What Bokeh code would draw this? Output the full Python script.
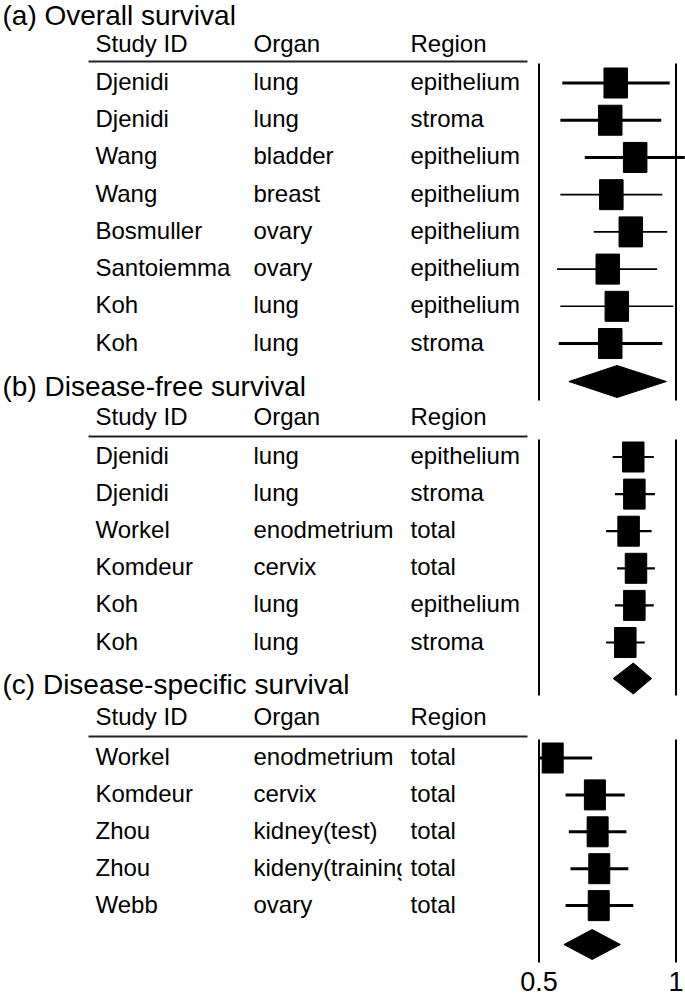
from bokeh.plotting import figure
from bokeh.models import Range1d, ColumnDataSource
from bokeh.core.properties import value
from bokeh.embed import file_html
from bokeh.resources import INLINE

# ---------------- data ----------------
titles = ["(a) Overall survival", "(b) Disease-free survival", "(c) Disease-specific survival"]
headers = ["Study ID", "Organ", "Region"]

a_study = ["Djenidi", "Djenidi", "Wang", "Wang", "Bosmuller", "Santoiemma", "Koh", "Koh"]
a_organ = ["lung", "lung", "bladder", "breast", "ovary", "ovary", "lung", "lung"]
a_region = ["epithelium", "stroma", "epithelium", "epithelium", "epithelium", "epithelium", "epithelium", "stroma"]
a_est = [0.780, 0.760, 0.851, 0.764, 0.835, 0.751, 0.784, 0.760]
a_lo = [0.585, 0.578, 0.667, 0.578, 0.700, 0.566, 0.578, 0.572]
a_hi = [0.977, 0.946, 1.032, 0.950, 0.968, 0.931, 0.990, 0.950]
a_pooled = (0.609, 0.785, 0.965)

b_study = ["Djenidi", "Djenidi", "Workel", "Komdeur", "Koh", "Koh"]
b_organ = ["lung", "lung", "enodmetrium", "cervix", "lung", "lung"]
b_region = ["epithelium", "stroma", "total", "total", "epithelium", "stroma"]
b_est = [0.844, 0.848, 0.827, 0.854, 0.848, 0.815]
b_lo = [0.769, 0.777, 0.745, 0.785, 0.777, 0.745]
b_hi = [0.919, 0.923, 0.911, 0.923, 0.919, 0.886]
b_pooled = (0.771, 0.844, 0.911)

c_study = ["Workel", "Komdeur", "Zhou", "Zhou", "Webb"]
c_organ = ["enodmetrium", "cervix", "kidney(test)", "kideny(training)", "ovary"]
c_region = ["total", "total", "total", "total", "total"]
c_est = [0.550, 0.704, 0.714, 0.720, 0.718]
c_lo = [0.500, 0.597, 0.609, 0.615, 0.597]
c_hi = [0.694, 0.813, 0.819, 0.826, 0.844]
c_pooled = (0.591, 0.694, 0.797)

tick_values = [0.5, 1.0]
tick_labels = ["0.5", "1"]

panels = [
    (a_study, a_organ, a_region, a_est, a_lo, a_hi, a_pooled),
    (b_study, b_organ, b_region, b_est, b_lo, b_hi, b_pooled),
    (c_study, c_organ, c_region, c_est, c_lo, c_hi, c_pooled),
]

# ---------------- layout (image pixel rows) ----------------
layout = [
    dict(title=24, header=52, rule=61, row1=82.5, step=37.22, diamond=381, vtop=63, vbot=400,
         box=(23.5, 30), ciw=[3, 3, 3, 1.6, 1.6, 1.6, 1.6, 3], dh=16),
    dict(title=395, header=425, rule=436, row1=456.5, step=37.1, diamond=678, vtop=439, vbot=695,
         box=(21.5, 30), ciw=[2.2] * 6, dh=15.5),
    dict(title=693, header=725, rule=736, row1=757.5, step=36.9, diamond=944, vtop=739, vbot=962,
         box=(21, 30), ciw=[3] * 5, dh=15),
]
col_x = [95, 253, 410]
FONT = value("Liberation Sans")
TXT_SHIFT = -9  # renderer draws alphabetic baseline slightly low

W, H = 685, 996
PX_PER_UNIT = 274.0
X0_PX = 538.5  # pixel of value 0.5
p = figure(width=W, height=H, output_backend="svg", toolbar_location=None,
           x_range=Range1d(0.5 - X0_PX / PX_PER_UNIT, 0.5 + (W - X0_PX) / PX_PER_UNIT),
           y_range=Range1d(H, 0),
           min_border=0, min_border_left=0, min_border_right=0,
           min_border_top=0, min_border_bottom=0)
p.extra_x_ranges = {"px": Range1d(0, W)}
p.axis.visible = False
p.xgrid.visible = False
p.ygrid.visible = False
p.outline_line_color = None
p.background_fill_color = "white"
p.border_fill_color = "white"

t_x, t_y, t_txt = [], [], []
h_x, h_y, h_txt = [], [], []
s_x, s_y, s_txt = [], [], []
o_x, o_y, o_txt = [], [], []
r_x, r_y, r_txt = [], [], []
rule_y = []
seg = dict(x0=[], x1=[], y=[], w=[])
box = dict(x=[], y=[], w=[], h=[])
dia_xs, dia_ys = [], []
vl = dict(x=[], y0=[], y1=[])
masks = []

for i, (study, organ, region, est, lo, hi, pooled) in enumerate(panels):
    L = layout[i]
    t_x.append(2); t_y.append(L["title"] + TXT_SHIFT); t_txt.append(titles[i])
    for k in range(3):
        h_x.append(col_x[k]); h_y.append(L["header"] + TXT_SHIFT); h_txt.append(headers[k])
    rule_y.append(L["rule"])
    for j in range(len(study)):
        yc = L["row1"] + j * L["step"]
        ty = yc + 7.5 + TXT_SHIFT
        s_x.append(col_x[0]); s_y.append(ty); s_txt.append(study[j])
        o_x.append(col_x[1]); o_y.append(ty); o_txt.append(organ[j])
        r_x.append(col_x[2]); r_y.append(ty); r_txt.append(region[j])
        if organ[j].startswith("kideny"):
            masks.append(yc)
        seg["x0"].append(lo[j]); seg["x1"].append(hi[j]); seg["y"].append(yc); seg["w"].append(L["ciw"][j])
        box["x"].append(est[j]); box["y"].append(yc); box["w"].append(L["box"][0]); box["h"].append(L["box"][1])
    dl, de, dhh = pooled
    yd = L["diamond"]
    dia_xs.append([dl, de, dhh, de]); dia_ys.append([yd, yd - L["dh"], yd, yd + L["dh"]])
    for xv in tick_values:
        vl["x"].append(xv); vl["y0"].append(L["vtop"]); vl["y1"].append(L["vbot"])

# reference lines at 0.5 and 1
p.segment(x0="x", x1="x", y0="y0", y1="y1", source=ColumnDataSource(vl),
          line_color="black", line_width=2)
# confidence intervals
p.segment(x0="x0", x1="x1", y0="y", y1="y", line_width="w", source=ColumnDataSource(seg),
          line_color="black")
# study squares
p.rect(x="x", y="y", width="w", height="h", width_units="screen", height_units="screen",
       source=ColumnDataSource(box), fill_color="black", line_color="black")
# pooled diamonds
p.patches(xs=dia_xs, ys=dia_ys, fill_color="black", line_color="black")

# header rules
p.segment(x0=[88] * 3, x1=[527] * 3, y0=rule_y, y1=rule_y, x_range_name="px",
          line_color="#222222", line_width=2)

def txt(xs, ys, ts, size):
    p.text(x=xs, y=ys, text=ts, x_range_name="px", text_font=FONT, text_font_size=size,
           text_color="black", text_baseline="alphabetic", text_align="left")

txt(t_x, t_y, t_txt, "28px")
txt(h_x, h_y, h_txt, "24px")
txt(s_x, s_y, s_txt, "24px")
txt(o_x, o_y, o_txt, "24px")
# clip overflowing organ label like the reference
if masks:
    p.quad(left=[401] * len(masks), right=[470] * len(masks),
           top=[m - 16 for m in masks], bottom=[m + 16 for m in masks],
           x_range_name="px", fill_color="white", line_color=None)
txt(r_x, r_y, r_txt, "24px")

# x tick labels
p.text(x=tick_values, y=[990 + TXT_SHIFT] * 2, text=tick_labels, text_font=FONT, text_font_size="27px",
       text_color="black", text_baseline="alphabetic", text_align="center")

open("out.html", "w").write(file_html(p, INLINE))
